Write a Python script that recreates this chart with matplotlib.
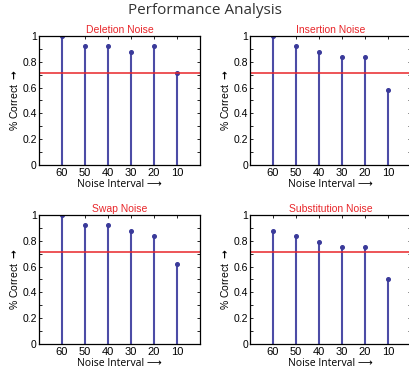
import numpy as np
import matplotlib.pyplot as plt
from matplotlib.ticker import MultipleLocator

# dati
intervals = ['60', '50', '40', '30', '20', '10']
deletion = [1.0, 0.92, 0.92, 0.875, 0.92, 0.71]
insertion = [1.0, 0.92, 0.875, 0.835, 0.835, 0.58]
swap = [1.0, 0.92, 0.92, 0.875, 0.835, 0.62]
substitution = [0.875, 0.835, 0.79, 0.75, 0.75, 0.50]
titles = ['Deletion Noise', 'Insertion Noise', 'Swap Noise', 'Substitution Noise']
threshold = 0.71

narrow = ['Liberation Sans', 'DejaVu Sans']
wide = ['Open Sans', 'DejaVu Sans']

fig = plt.figure(figsize=(4.1, 3.72), dpi=100)
fig.text(0.5, 0.973, 'Performance Analysis', ha='center', va='center',
         fontsize=11, family=wide, color='#333333')

# posizioni degli assi (frazioni della figura)
pos = [[0.095, 0.5565, 0.3927, 0.3468],
       [0.6098, 0.5565, 0.3927, 0.3468],
       [0.095, 0.0753, 0.3927, 0.3468],
       [0.6098, 0.0753, 0.3927, 0.3468]]
series = [deletion, insertion, swap, substitution]

x = np.arange(1, len(intervals) + 1)
for p, y, t in zip(pos, series, titles):
    ax = fig.add_axes(p)
    ml, sl, bl = ax.stem(x, y, linefmt='-', markerfmt='o', basefmt=' ')
    plt.setp(sl, color='#4c4ca6', linewidth=1.5)
    plt.setp(ml, color='#3a3a9a', markersize=2.6)
    ax.axhline(threshold, color='#e8262a', linewidth=1.1)
    ax.set_xlim(0, 7)
    ax.set_ylim(0, 1)
    ax.set_xticks(x)
    ax.set_xticklabels(intervals, family=narrow, fontsize=8)
    ax.set_yticks([0, 0.2, 0.4, 0.6, 0.8, 1])
    ax.set_yticklabels(['0', '0.2', '0.4', '0.6', '0.8', '1'], family=narrow, fontsize=7.5)
    ax.yaxis.set_minor_locator(MultipleLocator(0.1))
    ax.tick_params(which='both', direction='in', top=True, right=True,
                   length=2, width=0.6, pad=1.5)
    ax.tick_params(axis='x', pad=2.5)
    for s in ax.spines.values():
        s.set_linewidth(0.9)
    ax.set_title(t, color='#e8262a', family=narrow, fontsize=7.5, pad=2)
    ax.set_xlabel('Noise Interval \u27f6', family=wide, fontsize=7.5, labelpad=0.5)
    ax.set_ylabel('% Correct $\\mathbf{\\rightarrow}$', family=narrow, fontsize=7.5, labelpad=2)

fig.savefig('out.png', dpi=100)
